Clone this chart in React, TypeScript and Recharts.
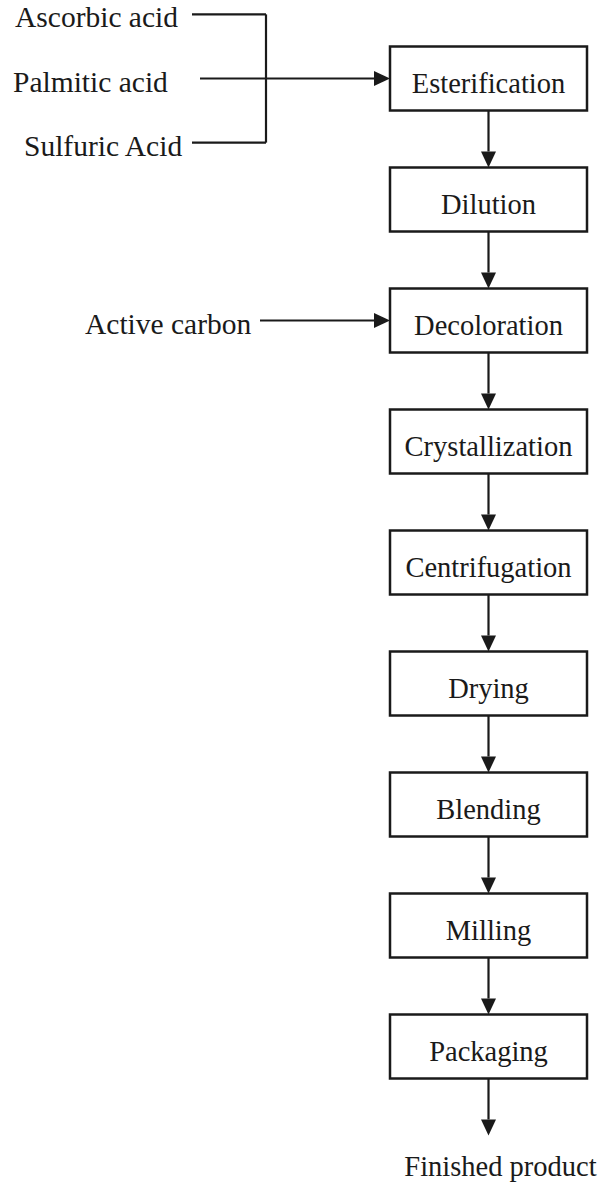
import { ComposedChart, Scatter, XAxis, YAxis, ReferenceLine } from 'recharts';

// process steps, top to bottom (row index = step index)
const STEPS = [
  'Esterification',
  'Dilution',
  'Decoloration',
  'Crystallization',
  'Centrifugation',
  'Drying',
  'Blending',
  'Milling',
  'Packaging',
];

// raw materials merged by the bracket into the first step
const MIXED_INPUTS = ['Ascorbic acid', 'Palmitic acid', 'Sulfuric Acid'];
const MIXED_ROWS = [-0.53, 0, 0.53];

// side feed into a later step
const SIDE_INPUTS = ['Active carbon'];
const SIDE_ROWS = [2];

const OUTPUT_LABEL = 'Finished product';
const OUTPUT_ROW = 9;

// layout: x axis is in px, y axis in step rows
const W = 599;
const H = 1183;
const ROW0 = 78.5;
const ROW_H = 121;
const BOX_X1 = 390;
const BOX_X2 = 587;
const BOX_W = BOX_X2 - BOX_X1;
const BOX_H = 64;
const BOX_CX = (BOX_X1 + BOX_X2) / 2;
const HALF = BOX_H / 2 / ROW_H;
const BRACKET_X = 266;
const MIXED_TEXT_X = [15, 13, 24];
const MIXED_LINE_X = [192, 200, 192];
const SIDE_TEXT_X = [85];
const SIDE_LINE_X = [260];

const FONT = "'Liberation Serif', serif";
const INK = '#1a1a1a';

const stepData = STEPS.map((name, i) => ({ x: BOX_CX, y: i, name }));
const labelData = [
  ...MIXED_INPUTS.map((name, i) => ({ x: MIXED_TEXT_X[i], y: MIXED_ROWS[i], name })),
  ...SIDE_INPUTS.map((name, i) => ({ x: SIDE_TEXT_X[i], y: SIDE_ROWS[i], name })),
];
const outputData = [{ x: BOX_CX, y: OUTPUT_ROW, name: OUTPUT_LABEL }];

function Arrow(props: any) {
  const { x1, y1, x2, y2 } = props;
  const len = Math.hypot(x2 - x1, y2 - y1) || 1;
  const ux = (x2 - x1) / len;
  const uy = (y2 - y1) / len;
  const head = 16;
  const half = 7.5;
  const bx = x2 - ux * head;
  const by = y2 - uy * head;
  return (
    <g>
      <line x1={x1} y1={y1} x2={bx} y2={by} stroke={INK} strokeWidth={2.2} />
      <polygon
        points={`${x2},${y2} ${bx - uy * half},${by + ux * half} ${bx + uy * half},${by - ux * half}`}
        fill={INK}
      />
    </g>
  );
}

function StepBox(props: any) {
  const { cx, cy, payload } = props;
  return (
    <g>
      <rect x={cx - BOX_W / 2} y={cy - BOX_H / 2} width={BOX_W} height={BOX_H} fill="#fff" stroke={INK} strokeWidth={2.5} />
      <text x={cx} y={cy + 14} textAnchor="middle" style={{ fontFamily: FONT, fontSize: 28.5 }} fill={INK}>
        {payload.name}
      </text>
    </g>
  );
}

function InputLabel(props: any) {
  const { cx, cy, payload } = props;
  return (
    <text x={cx} y={cy + 13} textAnchor="start" style={{ fontFamily: FONT, fontSize: 29.5 }} fill={INK}>
      {payload.name}
    </text>
  );
}

function OutputLabel(props: any) {
  const { cx, cy, payload } = props;
  return (
    <text x={cx + 12} y={cy + 8} textAnchor="middle" style={{ fontFamily: FONT, fontSize: 28.5 }} fill={INK}>
      {payload.name}
    </text>
  );
}

export default function App() {
  const yMin = -ROW0 / ROW_H;
  const yMax = (H - ROW0) / ROW_H;
  const mid = MIXED_ROWS.length >> 1;

  return (
    <div style={{ position: 'absolute', left: 0, top: 0, width: W, height: H, background: '#fff', fontFamily: FONT }}>
      <ComposedChart width={W} height={H} margin={{ top: 0, right: 0, bottom: 0, left: 0 }}>
        <XAxis type="number" dataKey="x" domain={[0, W]} allowDataOverflow hide />
        <YAxis type="number" dataKey="y" domain={[yMin, yMax]} reversed allowDataOverflow hide width={0} />

        {/* bracket collecting the raw materials */}
        {MIXED_ROWS.map((row, i) =>
          i === mid ? null : (
            <ReferenceLine
              key={`in-${i}`}
              segment={[{ x: MIXED_LINE_X[i], y: row }, { x: BRACKET_X, y: row }]}
              stroke={INK}
              strokeWidth={2.2}
            />
          )
        )}
        <ReferenceLine
          segment={[{ x: BRACKET_X, y: MIXED_ROWS[0] }, { x: BRACKET_X, y: MIXED_ROWS[MIXED_ROWS.length - 1] }]}
          stroke={INK}
          strokeWidth={2.2}
        />
        <ReferenceLine
          segment={[{ x: MIXED_LINE_X[mid], y: MIXED_ROWS[mid] }, { x: BOX_X1, y: MIXED_ROWS[mid] }]}
          shape={Arrow}
        />
        {SIDE_ROWS.map((row, i) => (
          <ReferenceLine key={`side-${i}`} segment={[{ x: SIDE_LINE_X[i], y: row }, { x: BOX_X1, y: row }]} shape={Arrow} />
        ))}

        {/* step-to-step arrows, last one to the product */}
        {STEPS.map((_, i) => (
          <ReferenceLine
            key={`down-${i}`}
            segment={[{ x: BOX_CX, y: i + HALF }, { x: BOX_CX, y: i + 1 - HALF }]}
            shape={Arrow}
          />
        ))}

        <Scatter data={stepData} shape={StepBox} isAnimationActive={false} />
        <Scatter data={labelData} shape={InputLabel} isAnimationActive={false} />
        <Scatter data={outputData} shape={OutputLabel} isAnimationActive={false} />
      </ComposedChart>
    </div>
  );
}
